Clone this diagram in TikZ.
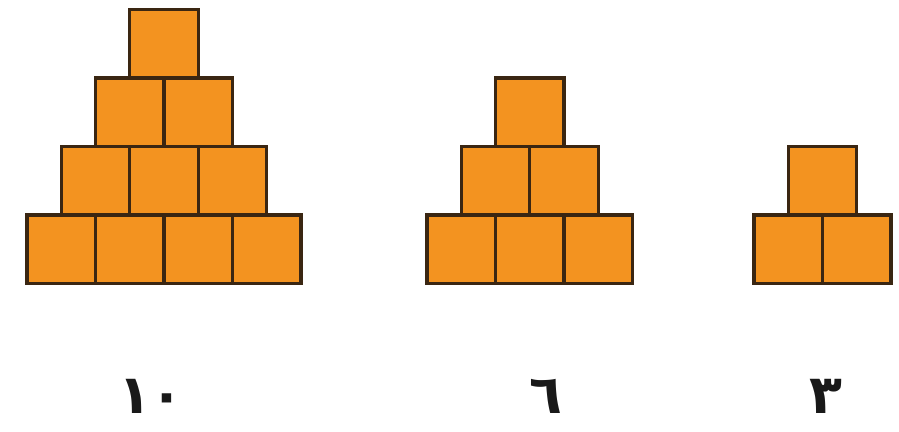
\documentclass[tikz,border=0pt]{standalone}
\usepackage{fontspec}
\newfontfamily\arabicfont[Script=Arabic]{DejaVu Sans}
\usetikzlibrary{positioning}
\definecolor{brickfill}{HTML}{F39320}
\definecolor{brickline}{HTML}{3A2612}

\begin{document}
\begin{tikzpicture}[x=0.03cm, y=-0.03cm,
    brick/.style={draw=brickline, fill=brickfill, line width=2.6pt, minimum size=2.055cm, inner sep=0pt},
    count/.style={font=\arabicfont\bfseries\fontsize{46}{46}\selectfont, text=black!90}]
    \useasboundingbox (0,0) rectangle (899,432);

    % Hình tháp 10 khối (4 hàng)
    \foreach \r in {0,...,3}
        \foreach \c in {0,...,\r}
            \node[brick] (a\r\c) at ({27+(3-\r)*34.25+34.25+\c*68.5}, {9.5+34.25+\r*68.5}) {};

    % Hình tháp 6 khối (3 hàng)
    \foreach \r in {0,...,2}
        \foreach \c in {0,...,\r}
            \node[brick] (b\r\c) at ({427+(2-\r)*34.25+34.25+\c*68.5}, {78+34.25+\r*68.5}) {};

    % Hình tháp 3 khối (2 hàng)
    \foreach \r in {0,...,1}
        \foreach \c in {0,...,\r}
            \node[brick] (c\r\c) at ({754+(1-\r)*34.25+34.25+\c*68.5}, {146.5+34.25+\r*68.5}) {};

    % Số khối bên dưới
    \node[count] (na) at (151,396) {١٠};
    \node[count] (nb) at (546,396) {٦};
    \node[count] (nc) at (826,396) {٣};
\end{tikzpicture}
\end{document}
